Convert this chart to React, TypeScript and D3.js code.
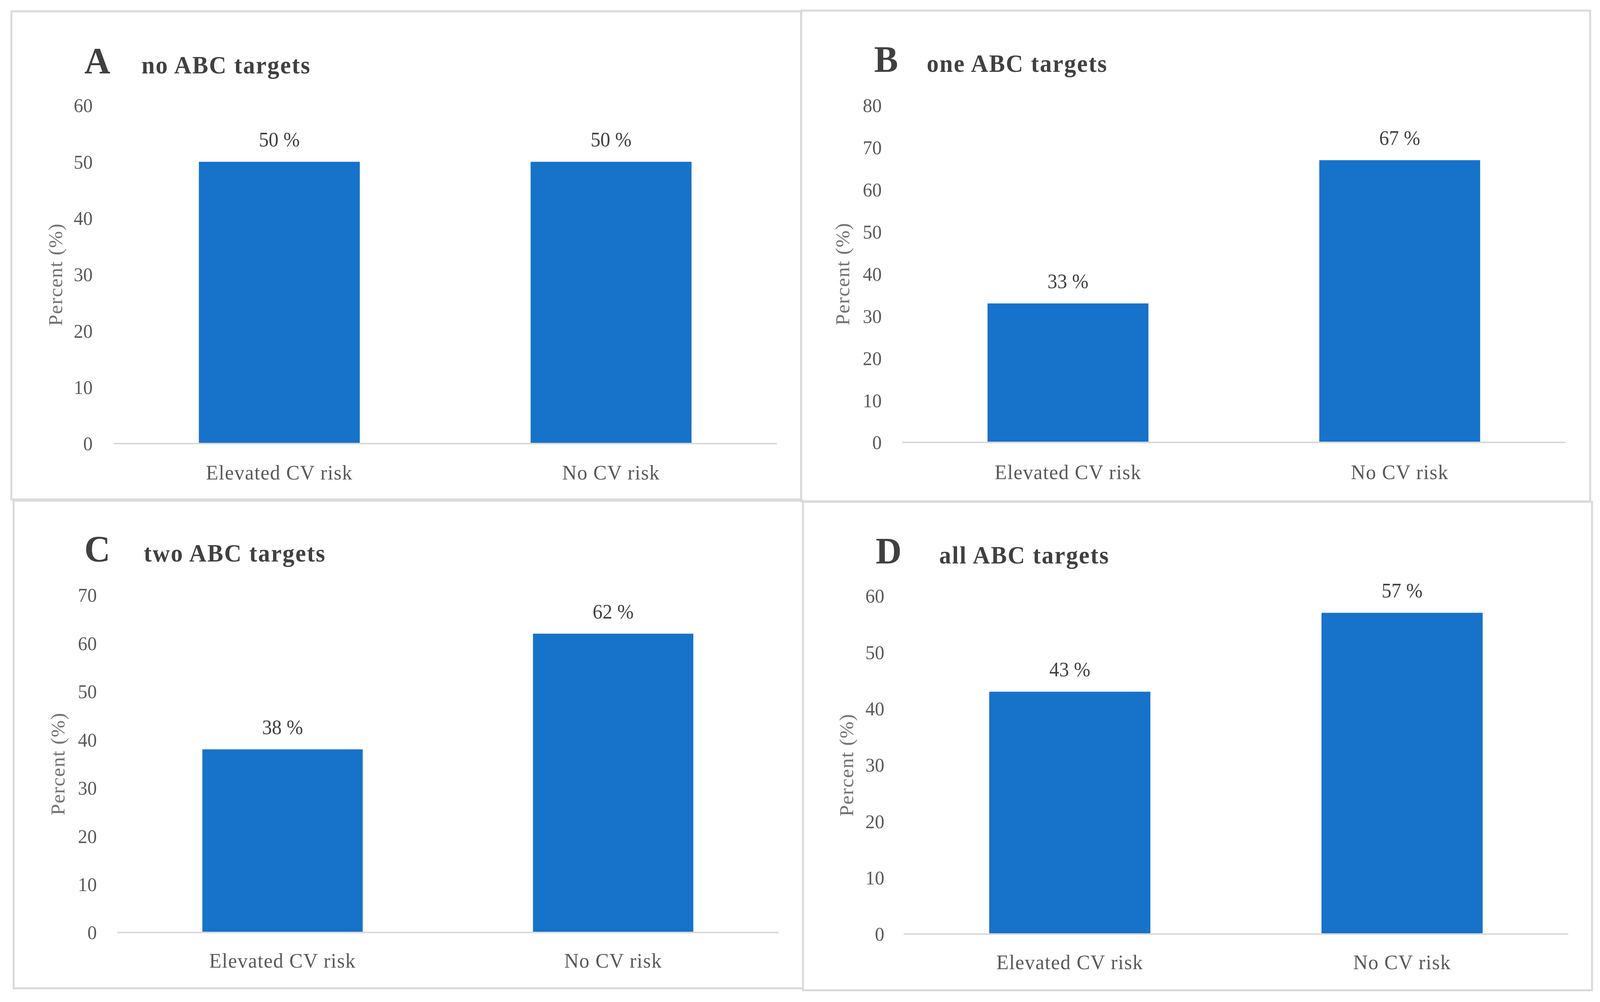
import * as d3 from "d3";

// chart values
const categories = ["Elevated CV risk", "No CV risk"];
const panelLetters = ["A", "B", "C", "D"];
const panelTitles = ["no ABC targets", "one ABC targets", "two ABC targets", "all ABC targets"];
const valuesA = [50, 50];
const valuesB = [33, 67];
const valuesC = [38, 62];
const valuesD = [43, 57];
const axisMax = [60, 80, 70, 60];
const yAxisTitle = "Percent (%)";

const panelValues = [valuesA, valuesB, valuesC, valuesD];

// panel geometry (in the 4230x2566 reference frame)
const layout = [
  { box: [30, 29, 2118, 1279], x: [300, 2054], y: [1136, 270], tickX: 245, letterX: 223, titleX: 374, titleY: 188, yLabX: 146, catY: 1228 },
  { box: [2118, 27, 4204, 1284], x: [2385, 4139], y: [1133, 270], tickX: 2331, letterX: 2311, titleX: 2450, titleY: 184, yLabX: 2227, catY: 1227 },
  { box: [36, 1282, 2123, 2531], x: [310, 2058], y: [2388, 1524], tickX: 256, letterX: 223, titleX: 380, titleY: 1438, yLabX: 152, catY: 2478 },
  { box: [2123, 1285, 4209, 2536], x: [2389, 4146], y: [2392, 1526], tickX: 2338, letterX: 2315, titleX: 2483, titleY: 1443, yLabX: 2237, catY: 2482 },
];

const W = 4230;
const H = 2566;
const BAR = "#1772C9";
const FONT = "'Liberation Serif', 'Times New Roman', serif";

function Panel({ i }: { i: number }) {
  const L = layout[i];
  const vals = panelValues[i];
  const max = axisMax[i];

  const x = d3.scaleBand<string>()
    .domain(categories)
    .range(L.x as [number, number])
    .paddingInner(0.515)
    .paddingOuter(0.2575);
  const y = d3.scaleLinear().domain([0, max]).range(L.y as [number, number]);
  const ticks = y.ticks(max / 10);
  const [bx0, by0, bx1, by1] = L.box;
  const yMid = (L.y[0] + L.y[1]) / 2;

  return (
    <g>
      <rect x={bx0} y={by0} width={bx1 - bx0} height={by1 - by0} fill="none" stroke="#d9d9d9" strokeWidth={5} />
      <text x={L.letterX} y={L.titleY} fontFamily={FONT} fontWeight="bold" fontSize={95} fill="#404040">
        {panelLetters[i]}
      </text>
      <text x={L.titleX} y={L.titleY} fontFamily={FONT} fontWeight="bold" fontSize={63} letterSpacing={2.5} fill="#404040">
        {panelTitles[i]}
      </text>

      {ticks.map((t) => (
        <text key={t} x={L.tickX} y={y(t)} dy="0.35em" textAnchor="end" fontFamily={FONT} fontSize={50} fill="#595959">
          {t}
        </text>
      ))}

      <text
        transform={`translate(${L.yLabX},${yMid}) rotate(-90)`}
        textAnchor="middle"
        dy="0.35em"
        fontFamily={FONT}
        fontSize={52}
        letterSpacing={1.5}
        fill="#737373"
      >
        {yAxisTitle}
      </text>

      {categories.map((c, k) => (
        <g key={c}>
          <rect x={x(c)} y={y(vals[k])} width={x.bandwidth()} height={y(0) - y(vals[k])} fill={BAR} />
          <text x={(x(c) ?? 0) + x.bandwidth() / 2} y={y(vals[k]) - 39} textAnchor="middle" fontFamily={FONT} fontSize={52} fill="#404040">
            {`${vals[k]} %`}
          </text>
          <text x={(x(c) ?? 0) + x.bandwidth() / 2} y={L.catY} textAnchor="middle" fontFamily={FONT} fontSize={53} letterSpacing={1.5} fill="#595959">
            {c}
          </text>
        </g>
      ))}

      <line x1={L.x[0]} x2={L.x[1]} y1={y(0)} y2={y(0)} stroke="#d9d9d9" strokeWidth={4} />
    </g>
  );
}

export default function App() {
  // the browser viewport may be narrower than the reference, so stretch the frame to fill it
  return (
    <svg
      viewBox={`0 0 ${W} ${H}`}
      preserveAspectRatio="none"
      style={{ position: "fixed", left: 0, top: 0, width: "100vw", height: "100vh", background: "#ffffff" }}
    >
      <rect width={W} height={H} fill="#ffffff" />
      {panelLetters.map((_, i) => (
        <Panel key={i} i={i} />
      ))}
    </svg>
  );
}
